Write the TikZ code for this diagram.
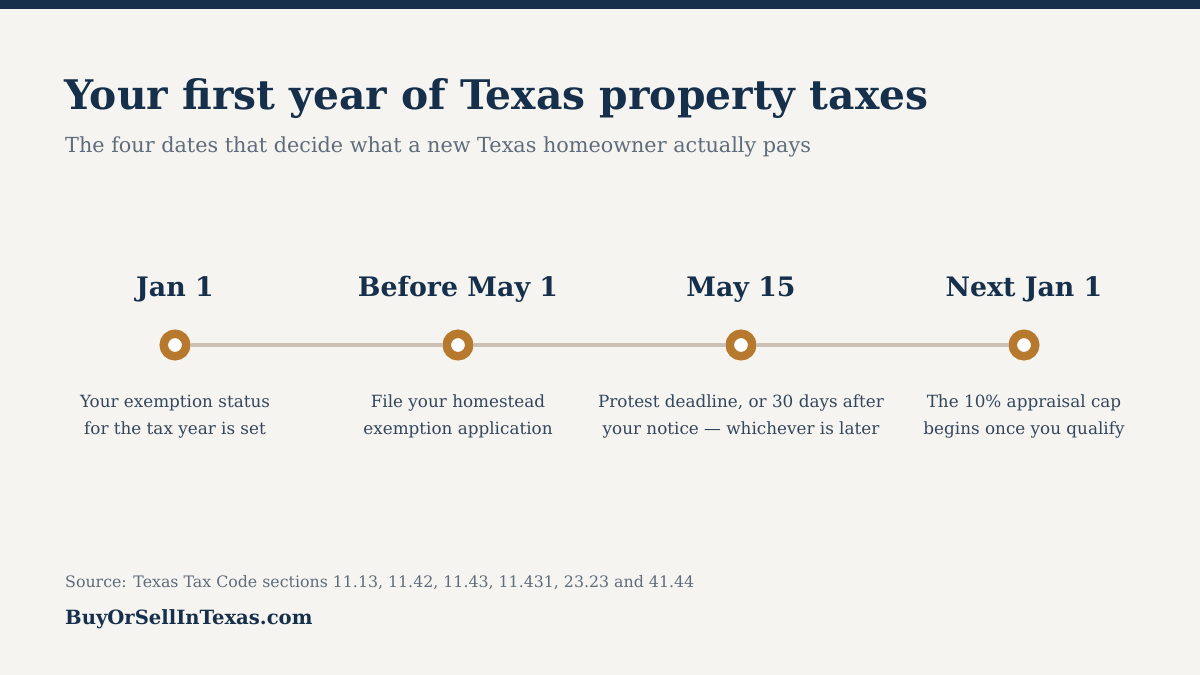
\documentclass[tikz,border=0pt]{standalone}
\usepackage{fontspec}
\setmainfont{DejaVu Serif}
\usetikzlibrary{positioning}
\definecolor{navy}{HTML}{16304C}
\definecolor{paper}{HTML}{F5F4F0}
\definecolor{slate}{HTML}{5F6C7B}
\definecolor{ink}{HTML}{34465B}
\definecolor{rail}{HTML}{CAC0B4}
\definecolor{copper}{HTML}{B7792D}
\tikzset{
  dot/.style={circle, draw=copper, line width=8.5pt, fill=white, minimum size=22.5pt, inner sep=0pt},
  datelabel/.style={font=\bfseries\fontsize{26.8}{32}\selectfont, text=navy, inner sep=0pt},
  notelabel/.style={font=\fontsize{16.8}{27}\selectfont, text=ink, align=center, inner sep=0pt}
}

\begin{document}
\begin{tikzpicture}[x=1pt,y=-1pt]
			% page and top bar
			\fill[paper] (0,0) rectangle (1200,675);
			\fill[navy] (0,0) rectangle (1200,9);
			\useasboundingbox (0,0) rectangle (1200,675);
			% headings
			\node (title) at (64,109)[anchor=base west, inner sep=0pt, text=navy, font=\bfseries\fontsize{40.8}{46}\selectfont]{Your first year of Texas property taxes};
			\node (subtitle) at (65,152)[anchor=base west, inner sep=0pt, text=slate, font=\fontsize{20.75}{26}\selectfont]{The four dates that decide what a new Texas homeowner actually pays};
			% timeline
			\foreach \i/\x/\date/\note in {%
				1/175/Jan 1/{Your exemption status\\for the tax year is set},
				2/458/Before May 1/{File your homestead\\exemption application},
				3/741/May 15/{Protest deadline, or 30 days after\\your notice — whichever is later},
				4/1024/Next Jan 1/{The 10\% appraisal cap\\begins once you qualify}}{
				\node[dot] (d\i) at (\x,345) {};
				\node[datelabel, above=49pt of d\i.center, anchor=base] (date\i) {\date};
				\node[notelabel, below=50pt of d\i.center, anchor=north] (note\i) {\note};
			}
			\draw[rail, line width=4pt] (d1) -- (d2) (d2) -- (d3) (d3) -- (d4);
			% footer
			\node (source) at (65,587)[anchor=base west, inner sep=0pt, text=slate, font=\fontsize{15.8}{20}\selectfont]{Source: Texas Tax Code sections 11.13, 11.42, 11.43, 11.431, 23.23 and 41.44};
			\node (brand) at (65,624)[anchor=base west, inner sep=0pt, text=navy, font=\bfseries\fontsize{19.6}{24}\selectfont]{BuyOrSellInTexas.com};
		\end{tikzpicture}
\end{document}
